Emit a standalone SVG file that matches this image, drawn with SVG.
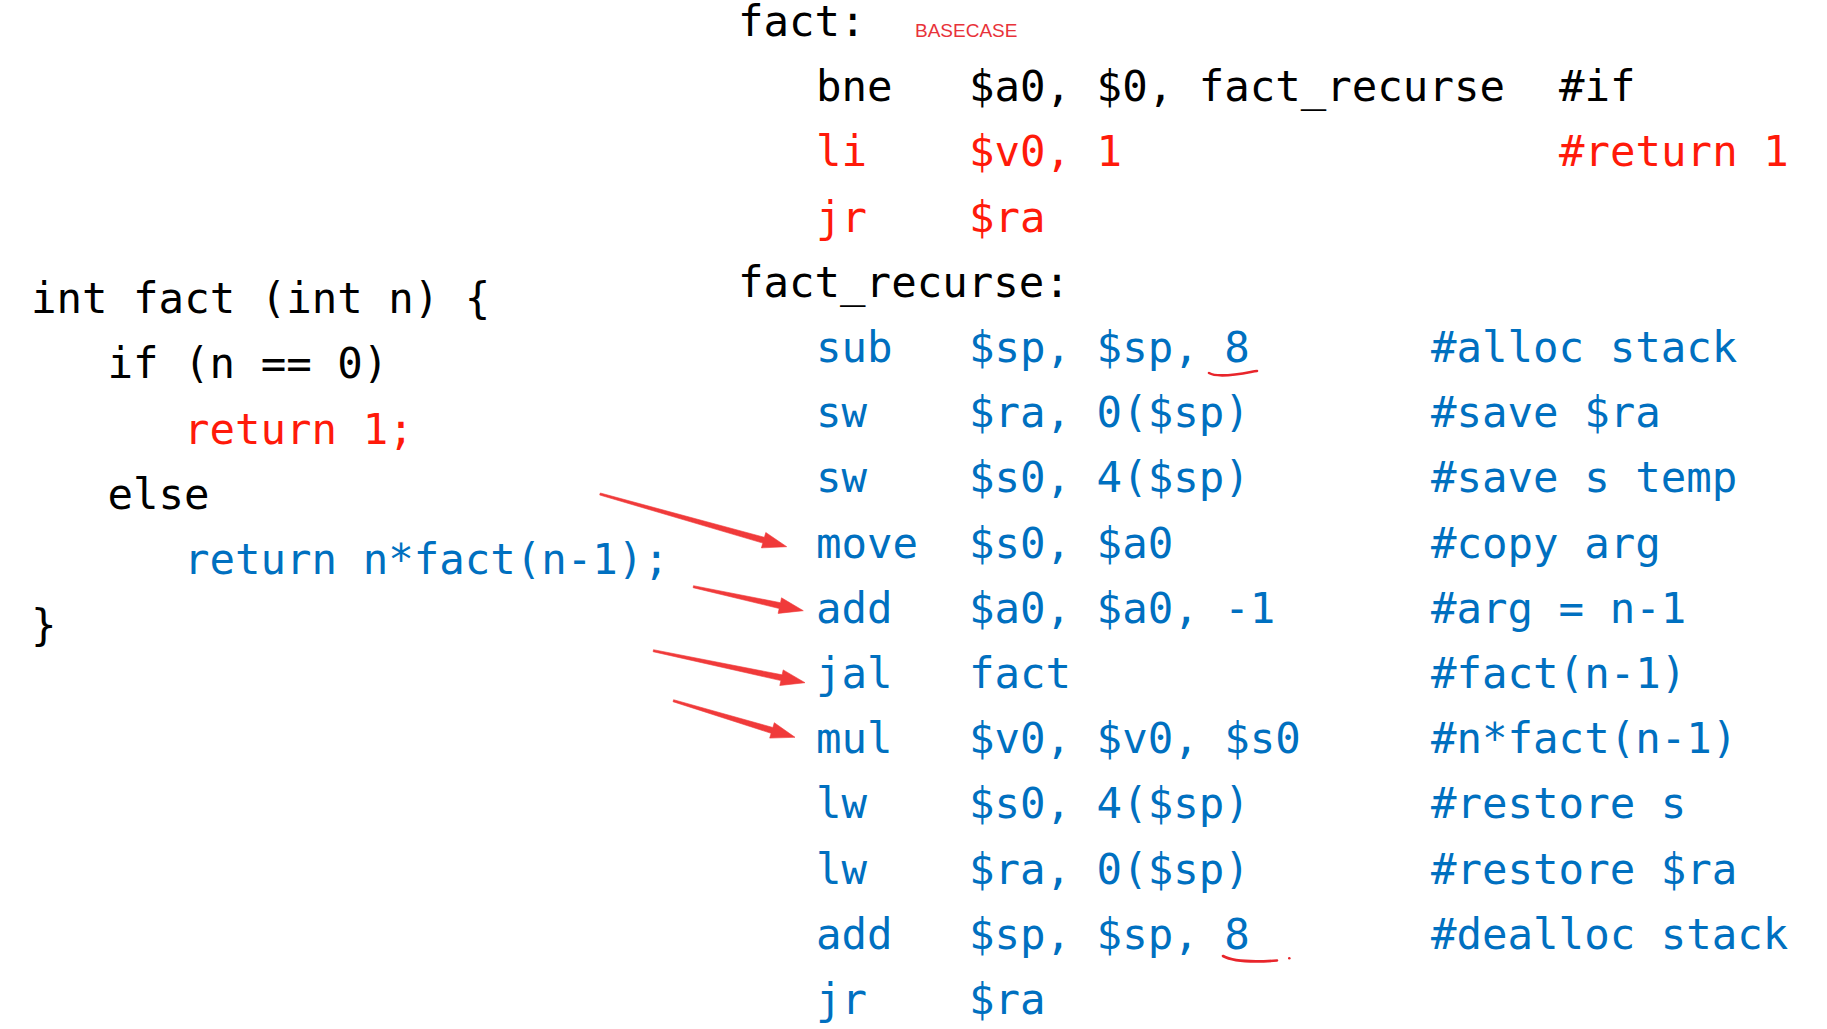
<svg xmlns="http://www.w3.org/2000/svg" width="1827" height="1029" viewBox="0 0 1827 1029">
<style>
  .code { font-family: "DejaVu Sans Mono", "Liberation Mono", monospace; font-size: 42.4px; }
  .k { fill: #000000; }
  .r { fill: #ff1a0a; }
  .b { fill: #0070c0; }
  .note { font-family: "Liberation Sans", Arial, sans-serif; font-size: 19px; fill: #e8323a; }
  .arrow { fill: #f03a3a; stroke: #f03a3a; stroke-width: 0.6; stroke-linejoin: round; }
  .mark { stroke: #e8252b; stroke-width: 2.6; fill: none; stroke-linecap: round; }
</style>
<rect width="1827" height="1029" fill="#ffffff"/>

<g id="c-source" class="code">
  <text class="k" x="31" y="313">int fact (int n) {</text>
  <text class="k" x="107.5" y="378.3">if (n == 0)</text>
  <text class="r" x="184" y="443.6">return 1;</text>
  <text class="k" x="107.5" y="508.9">else</text>
  <text class="b" x="184" y="574.2">return n*fact(n-1);</text>
  <text class="k" x="31" y="639.5">}</text>
</g>

<g id="asm-base" class="code">
  <text class="k" x="738" y="36">fact:</text>
  <text class="k" y="101.2"><tspan x="816">bne</tspan><tspan x="969">$a0, $0, fact_recurse</tspan><tspan x="1559">#if</tspan></text>
  <text class="r" y="166.4"><tspan x="816">li</tspan><tspan x="969">$v0, 1</tspan><tspan x="1559">#return 1</tspan></text>
  <text class="r" y="231.6"><tspan x="816">jr</tspan><tspan x="969">$ra</tspan></text>
</g>
<g id="basecase-label">
  <text class="note" x="915" y="37">BASECASE</text>
</g>

<g id="asm-recurse" class="code">
  <text class="k" x="738" y="296.8">fact_recurse:</text>
  <text class="b" y="362"><tspan x="816">sub</tspan><tspan x="969">$sp, $sp, 8</tspan><tspan x="1431">#alloc stack</tspan></text>
  <text class="b" y="427.2"><tspan x="816">sw</tspan><tspan x="969">$ra, 0($sp)</tspan><tspan x="1431">#save $ra</tspan></text>
  <text class="b" y="492.4"><tspan x="816">sw</tspan><tspan x="969">$s0, 4($sp)</tspan><tspan x="1431">#save s temp</tspan></text>
  <text class="b" y="557.6"><tspan x="816">move</tspan><tspan x="969">$s0, $a0</tspan><tspan x="1431">#copy arg</tspan></text>
  <text class="b" y="622.8"><tspan x="816">add</tspan><tspan x="969">$a0, $a0, -1</tspan><tspan x="1431">#arg = n-1</tspan></text>
  <text class="b" y="688"><tspan x="816">jal</tspan><tspan x="969">fact</tspan><tspan x="1431">#fact(n-1)</tspan></text>
  <text class="b" y="753.2"><tspan x="816">mul</tspan><tspan x="969">$v0, $v0, $s0</tspan><tspan x="1431">#n*fact(n-1)</tspan></text>
  <text class="b" y="818.4"><tspan x="816">lw</tspan><tspan x="969">$s0, 4($sp)</tspan><tspan x="1431">#restore s</tspan></text>
  <text class="b" y="883.6"><tspan x="816">lw</tspan><tspan x="969">$ra, 0($sp)</tspan><tspan x="1431">#restore $ra</tspan></text>
  <text class="b" y="948.8"><tspan x="816">add</tspan><tspan x="969">$sp, $sp, 8</tspan><tspan x="1431">#dealloc stack</tspan></text>
  <text class="b" y="1014"><tspan x="816">jr</tspan><tspan x="969">$ra</tspan></text>
</g>

<g id="underlines">
  <path class="mark" d="M1209,373 C1214,376 1222,376 1235,374.5 S1252,371.5 1257,371"/>
  <path class="mark" d="M1223,956 C1232,961 1250,962.5 1277,960.5"/>
  <circle cx="1289.3" cy="958.3" r="1.3" fill="#e8252b"/>
</g>

<g id="connectors">
  <polygon class="arrow" points="600.3,493 764.4,537.3 765.8,532.5 786.7,546.7 761.4,547.9 762.8,543.1 599.7,495"/>
  <polygon class="arrow" points="693.5,585.7 780.5,602.7 781.5,597.8 803.3,610.7 778.1,613.4 779.2,608.5 693.1,587.7"/>
  <polygon class="arrow" points="653.5,649.7 782.1,674.8 783.2,669.9 805,682.7 779.8,685.5 780.9,680.6 653.1,651.7"/>
  <polygon class="arrow" points="673.6,699.7 772.9,727.5 774.3,722.7 795,737.3 769.7,738.1 771.1,733.3 673,701.7"/>
</g>
</svg>
